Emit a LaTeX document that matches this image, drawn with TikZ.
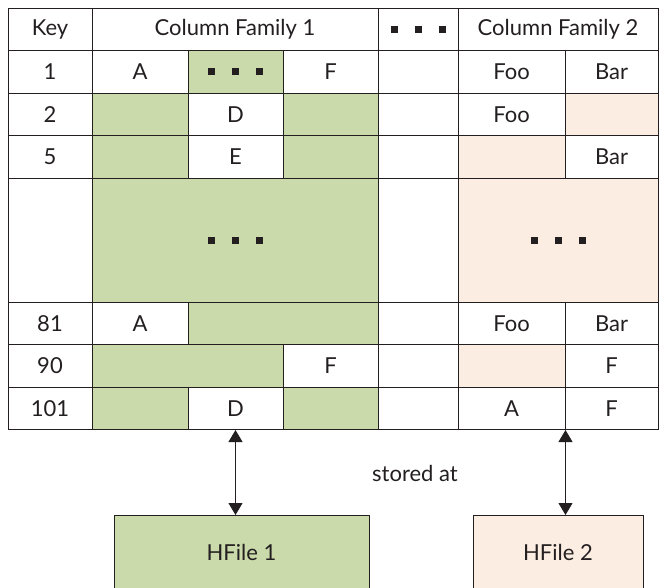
\documentclass[tikz,border=0pt]{standalone}
\usepackage{fontspec}
\setmainfont{Lato}
\usetikzlibrary{positioning,arrows.meta}
\definecolor{cfgreen}{HTML}{CBDAAA}
\definecolor{cfpeach}{HTML}{FCEDE2}
\definecolor{ink}{HTML}{231F20}
\newcommand{\sqdots}{\rule{7pt}{7pt}\hspace{17pt}\rule{7pt}{7pt}\hspace{17pt}\rule{7pt}{7pt}}
\tikzset{
    cell/.style = {
        draw=ink,
        text=ink,
        shape=rectangle,
        minimum height=42.5pt,
        inner sep=0pt,
        line width=1pt
    },
    used/.style = {
        cell,
        fill=cfgreen
    },
    spare/.style = {
        cell,
        fill=cfpeach
    },
    hfile/.style = {
        cell,
        minimum height=74pt,
        anchor=north
    },
    keycol/.style = {minimum width=84pt},
    acol/.style = {minimum width=96pt},
    xcol/.style = {minimum width=95pt},
    fcol/.style = {minimum width=95pt},
    gapcol/.style = {minimum width=80pt},
    foocol/.style = {minimum width=107pt},
    barcol/.style = {minimum width=93pt},
    >={Triangle[length=12pt,width=14pt]},
}

\begin{document}
\begin{tikzpicture}[x=1pt, y=-1pt, font=\fontsize{22}{26}\selectfont]
            \useasboundingbox (0,0) rectangle (664,587);

            \node[cell, keycol] (key) at (50,29.25) {Key};
            \node[cell, minimum width=286pt] (fam1) at (235,29.25) {Column Family 1};
            \node[cell, gapcol] (more) at (418,29.25) {\sqdots};
            \node[cell, minimum width=200pt] (fam2) at (558,29.25) {Column Family 2};

            \node[cell, keycol] (k1) at (50,71.75) {1};
            \node[cell, acol] (a1) at (140,71.75) {A};
            \node[used, xcol] (x1) at (235.5,71.75) {\sqdots};
            \node[cell, fcol] (f1) at (330.5,71.75) {F};
            \node[cell, gapcol] (g1) at (418,71.75) {};
            \node[cell, foocol] (foo1) at (511.5,71.75) {Foo};
            \node[cell, barcol] (bar1) at (611.5,71.75) {Bar};

            \node[cell, keycol] (k2) at (50,114.25) {2};
            \node[used, acol] (a2) at (140,114.25) {};
            \node[cell, xcol] (x2) at (235.5,114.25) {D};
            \node[used, fcol] (f2) at (330.5,114.25) {};
            \node[cell, gapcol] (g2) at (418,114.25) {};
            \node[cell, foocol] (foo2) at (511.5,114.25) {Foo};
            \node[spare, barcol] (bar2) at (611.5,114.25) {};

            \node[cell, keycol] (k5) at (50,156.75) {5};
            \node[used, acol] (a5) at (140,156.75) {};
            \node[cell, xcol] (x5) at (235.5,156.75) {E};
            \node[used, fcol] (f5) at (330.5,156.75) {};
            \node[cell, gapcol] (g5) at (418,156.75) {};
            \node[spare, foocol] (foo5) at (511.5,156.75) {};
            \node[cell, barcol] (bar5) at (611.5,156.75) {Bar};

            \node[cell, keycol, minimum height=124pt] (kmid) at (50,240) {};
            \node[used, minimum width=286pt, minimum height=124pt] (mid1) at (235,240) {\sqdots};
            \node[cell, gapcol, minimum height=124pt] (gmid) at (418,240) {};
            \node[spare, minimum width=200pt, minimum height=124pt] (mid2) at (558,240) {\sqdots};

            \node[cell, keycol] (k81) at (50,323.25) {81};
            \node[cell, acol] (a81) at (140,323.25) {A};
            \node[used, minimum width=190pt] (xf81) at (283,323.25) {};
            \node[cell, gapcol] (g81) at (418,323.25) {};
            \node[cell, foocol] (foo81) at (511.5,323.25) {Foo};
            \node[cell, barcol] (bar81) at (611.5,323.25) {Bar};

            \node[cell, keycol] (k90) at (50,365.75) {90};
            \node[used, minimum width=191pt] (ax90) at (187.5,365.75) {};
            \node[cell, fcol] (f90) at (330.5,365.75) {F};
            \node[cell, gapcol] (g90) at (418,365.75) {};
            \node[spare, foocol] (foo90) at (511.5,365.75) {};
            \node[cell, barcol] (bar90) at (611.5,365.75) {F};

            \node[cell, keycol] (k101) at (50,408.25) {101};
            \node[used, acol] (a101) at (140,408.25) {};
            \node[cell, xcol] (x101) at (235.5,408.25) {D};
            \node[used, fcol] (f101) at (330.5,408.25) {};
            \node[cell, gapcol] (g101) at (418,408.25) {};
            \node[cell, foocol] (foo101) at (511.5,408.25) {A};
            \node[cell, barcol] (bar101) at (611.5,408.25) {F};

            \node[used, hfile, minimum width=255pt] (hfile1) at (241.5,515) {HFile 1};
            \node[spare, hfile, minimum width=170pt] (hfile2) at (558,515) {HFile 2};
            \node[text=ink] (stored) at (415,473) {stored at};

            \path[draw=ink, line width=1pt, <->] (x101.south) -- (x101.south |- hfile1.north);
            \path[draw=ink, line width=1pt, <->] (foo101.south east) -- (foo101.south east |- hfile2.north);

        \end{tikzpicture}
\end{document}
